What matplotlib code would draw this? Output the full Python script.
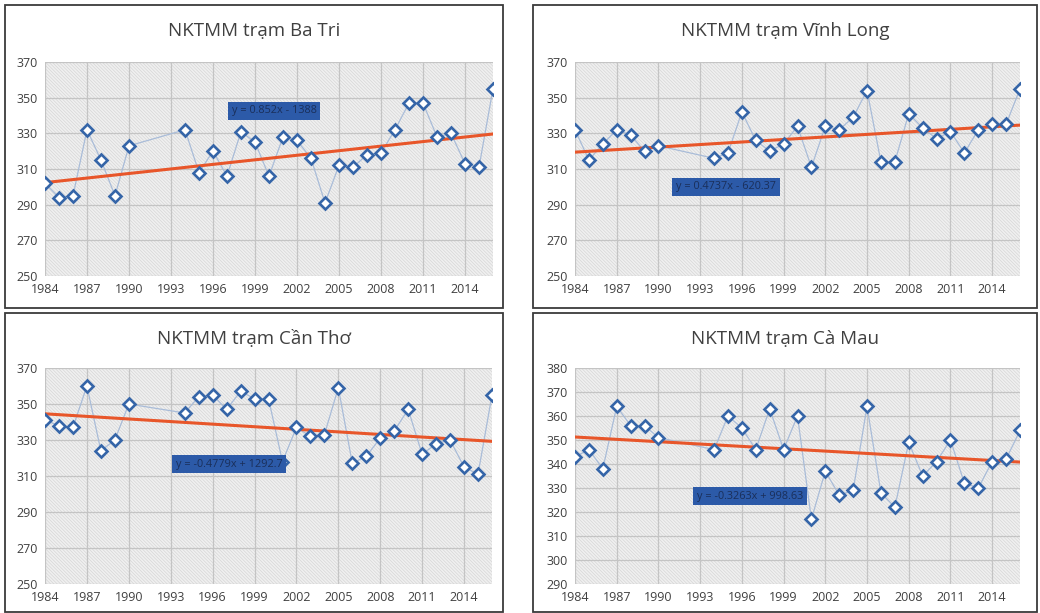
import numpy as np
import matplotlib
matplotlib.use('Agg')
import matplotlib.pyplot as plt
from matplotlib.patches import Rectangle

plt.rcParams['font.family'] = ['Open Sans', 'DejaVu Sans']
plt.rcParams['hatch.linewidth'] = 0.5

W, H = 1040, 613

# years (no data 1991-1993)
years = [1984, 1985, 1986, 1987, 1988, 1989, 1990,
         1994, 1995, 1996, 1997, 1998, 1999, 2000, 2001, 2002, 2003, 2004,
         2005, 2006, 2007, 2008, 2009, 2010, 2011, 2012, 2013, 2014, 2015, 2016]

ba_tri = [302, 294, 295, 332, 315, 295, 323,
          332, 308, 320, 306, 331, 325, 306, 328, 326, 316, 291,
          312, 311, 318, 319, 332, 347, 347, 328, 330, 313, 311, 355]

vinh_long = [332, 315, 324, 332, 329, 320, 323,
             316, 319, 342, 326, 320, 324, 334, 311, 334, 332, 339,
             354, 314, 314, 341, 333, 327, 331, 319, 332, 335, 335, 355]

can_tho = [341, 338, 337, 360, 324, 330, 350,
           345, 354, 355, 347, 357, 353, 353, 318, 337, 332, 333,
           359, 317, 321, 331, 335, 347, 322, 328, 330, 315, 311, 355]

ca_mau = [343, 346, 338, 364, 356, 356, 351,
          346, 360, 355, 346, 363, 346, 360, 317, 337, 327, 329,
          364, 328, 322, 349, 335, 341, 350, 332, 330, 341, 342, 354]

# trend line coefficients (slope, intercept) and equation labels
trend_coef = [(0.852, -1388), (0.4737, -620.37), (-0.4779, 1292.7), (-0.3263, 998.63)]
eq_labels = ['y = 0.852x - 1388', 'y = 0.4737x - 620.37',
             'y = -0.4779x + 1292.7', 'y = -0.3263x + 998.63']
titles = ['NKTMM trạm Ba Tri', 'NKTMM trạm Vĩnh Long',
          'NKTMM trạm Cần Thơ', 'NKTMM trạm Cà Mau']
series = [ba_tri, vinh_long, can_tho, ca_mau]
y_ranges = [(250, 370, 20), (250, 370, 20), (250, 370, 20), (290, 380, 10)]
x_ticks = [1984, 1987, 1990, 1993, 1996, 1999, 2002, 2005, 2008, 2011, 2014]

# pixel layouts: panel border, plot area, label box centre
panels = [(5, 5, 503, 308), (533, 5, 1037, 308), (5, 313, 503, 612), (533, 313, 1037, 612)]
areas = [(45, 62, 493, 276), (575, 62, 1020, 276), (45, 368, 492, 584), (575, 368, 1020, 584)]
label_pos = [(274, 111), (726, 187), (229, 464), (750, 496)]

fig = plt.figure(figsize=(W / 100, H / 100), dpi=100)
fig.patch.set_facecolor('white')

for i in range(4):
    px0, py0, px1, py1 = panels[i]
    fig.add_artist(Rectangle((px0 / W, 1 - py1 / H), (px1 - px0) / W, (py1 - py0) / H,
                             transform=fig.transFigure, fill=False,
                             edgecolor='#3a3a3a', linewidth=1.3))

    x0, y0, x1, y1 = areas[i]
    ax = fig.add_axes([x0 / W, 1 - y1 / H, (x1 - x0) / W, (y1 - y0) / H])
    ax.set_facecolor('#f0f0f0')
    ax.add_patch(Rectangle((0, 0), 1, 1, transform=ax.transAxes, facecolor='none',
                           hatch='\\' * 10, edgecolor='#d6d6d6', linewidth=0, zorder=0))

    ymin, ymax, step = y_ranges[i]
    ax.set_xlim(1984, 2016)
    ax.set_ylim(ymin, ymax)
    ax.set_xticks(x_ticks)
    ax.set_yticks(np.arange(ymin, ymax + 1, step))
    ax.grid(True, color='#c4c4c4', linewidth=0.9, zorder=1)
    for s in ax.spines.values():
        s.set_visible(False)
    ax.tick_params(length=0, labelsize=9, labelcolor='#404040', pad=5)

    ax.plot(years, series[i], color='#a9bcd8', linewidth=0.9, zorder=2)
    ax.plot(years, series[i], linestyle='none', marker='D', markersize=6.5,
            markerfacecolor='white', markeredgecolor='#3565a8', markeredgewidth=1.9, zorder=4)

    a, b = trend_coef[i]
    tx = np.array([1984, 2016])
    ax.plot(tx, a * tx + b, color='#e8562a', linewidth=2.2, zorder=3)

    lx, ly = label_pos[i]
    fig.text(lx / W, 1 - ly / H, eq_labels[i], ha='center', va='center',
             fontsize=7.8, color='#1a2f5a', zorder=10,
             bbox=dict(boxstyle='square,pad=0.35', facecolor='#2c5aa8', edgecolor='none'))

    fig.text(((px0 + px1) / 2) / W, 1 - (py0 + 26) / H, titles[i], ha='center', va='center',
             fontsize=13.5, color='#404040')

fig.savefig('out.png', dpi=100)
